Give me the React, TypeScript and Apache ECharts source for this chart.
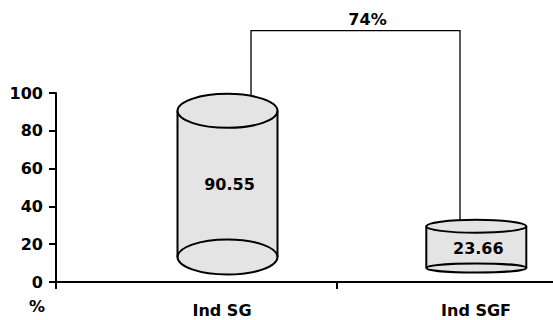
import React, { useEffect, useRef } from "react";
import * as echarts from "echarts";

const categories = ["Ind SG", "Ind SGF"];
const values = [90.55, 23.66];
const changeLabel = "74%";
const bracketLevel = 133;

// perspective / drawing tweaks (pixels)
const xShift = [31, -1.2];
const topShift = [0, -11];
const baseLift = [25, 14];
const ryTop = [17, 6.5];
const ryBot = [17.5, 4.5];
const rx = 50;
const bracketDx = [23.5, -16.3];

const FONT = "DejaVu Sans";
const fill = "#e4e4e4";

export default function App() {
  const ref = useRef<HTMLDivElement>(null);
  useEffect(() => {
    const chart = echarts.init(ref.current!, null, { renderer: "svg" });
    const cylTop = (i: number, dx: number, api: any) => {
      const p = api.coord([i, values[i]]);
      const cx = p[0] + xShift[i];
      const cy = p[1] + topShift[i];
      const r = ryTop[i];
      return [cx + dx, cy - r * Math.sqrt(1 - (dx / rx) * (dx / rx))];
    };
    chart.setOption({
      animation: false,
      grid: { left: 56, top: 93, width: 562, height: 189, outerBoundsMode: "none", containLabel: false },
      xAxis: {
        type: "category",
        data: categories,
        axisLine: { lineStyle: { color: "#000", width: 2 } },
        axisTick: { show: true, length: 7, lineStyle: { color: "#000", width: 2 } },
        axisLabel: {
          margin: 20,
          formatter: (v: string, idx: number) => (idx === 0 ? "{a|" + v + "}" : "{b|" + v + "}"),
          rich: {
            a: { fontFamily: FONT, fontWeight: "bold", fontSize: 16, color: "#000", padding: [0, 0, 0, 51] },
            b: { fontFamily: FONT, fontWeight: "bold", fontSize: 16, color: "#000", padding: [0, 3, 0, 0] },
          },
        },
      },
      yAxis: {
        type: "value",
        min: 0,
        max: 100,
        interval: 20,
        name: "%",
        nameLocation: "start",
        nameGap: 16,
        nameTextStyle: { fontFamily: FONT, fontWeight: "bold", fontSize: 16, color: "#000", align: "right", padding: [0, 11, 0, 0] },
        splitLine: { show: false },
        axisLine: { show: true, lineStyle: { color: "#000", width: 2 } },
        axisTick: { show: true, length: 7, lineStyle: { color: "#000", width: 2 } },
        axisLabel: { margin: 13, fontFamily: FONT, fontWeight: "bold", fontSize: 16, color: "#000" },
      },
      series: [
        {
          type: "custom",
          clip: false,
          data: values.map((v, i) => [i, v]),
          renderItem: (params: any, api: any) => {
            const i = params.dataIndex;
            const p = api.coord([api.value(0), api.value(1)]);
            const p0 = api.coord([api.value(0), 0]);
            const cx = p[0] + xShift[i];
            const topY = p[1] + topShift[i];
            const botY = p0[1] - baseLift[i];
            const st = { stroke: "#000", lineWidth: 2 };
            return {
              type: "group",
              children: [
                { type: "rect", shape: { x: cx - rx, y: topY, width: 2 * rx, height: botY - topY }, style: { fill } },
                { type: "ellipse", shape: { cx, cy: botY, rx, ry: ryBot[i] }, style: { fill, ...st } },
                { type: "line", shape: { x1: cx - rx, y1: topY, x2: cx - rx, y2: botY }, style: st },
                { type: "line", shape: { x1: cx + rx, y1: topY, x2: cx + rx, y2: botY }, style: st },
                { type: "ellipse", shape: { cx, cy: topY, rx, ry: ryTop[i] }, style: { fill, ...st } },
                {
                  type: "text",
                  x: cx + 2,
                  y: (topY + botY) / 2 + 1,
                  style: {
                    text: values[i].toFixed(2),
                    fill: "#000",
                    font: `bold 16px ${FONT}`,
                    align: "center",
                    verticalAlign: "middle",
                  },
                },
              ],
            };
          },
        },
        {
          type: "custom",
          clip: false,
          data: [[0, 1]],
          renderItem: (params: any, api: any) => {
            const a = cylTop(0, bracketDx[0], api);
            const b = cylTop(1, bracketDx[1], api);
            const yTop = api.coord([0, bracketLevel])[1];
            return {
              type: "group",
              children: [
                {
                  type: "polyline",
                  shape: { points: [a, [a[0], yTop], [b[0], yTop], b] },
                  style: { stroke: "#000", lineWidth: 1.3, fill: "none" },
                },
                {
                  type: "text",
                  x: (a[0] + b[0]) / 2 + 12,
                  y: yTop - 11,
                  style: {
                    text: changeLabel,
                    fill: "#000",
                    font: `bold 16px ${FONT}`,
                    align: "center",
                    verticalAlign: "middle",
                  },
                },
              ],
            };
          },
        },
      ],
    });
    return () => chart.dispose();
  }, []);
  return <div ref={ref} style={{ position: "absolute", left: 0, top: 0, width: 553, height: 320 }} />;
}
